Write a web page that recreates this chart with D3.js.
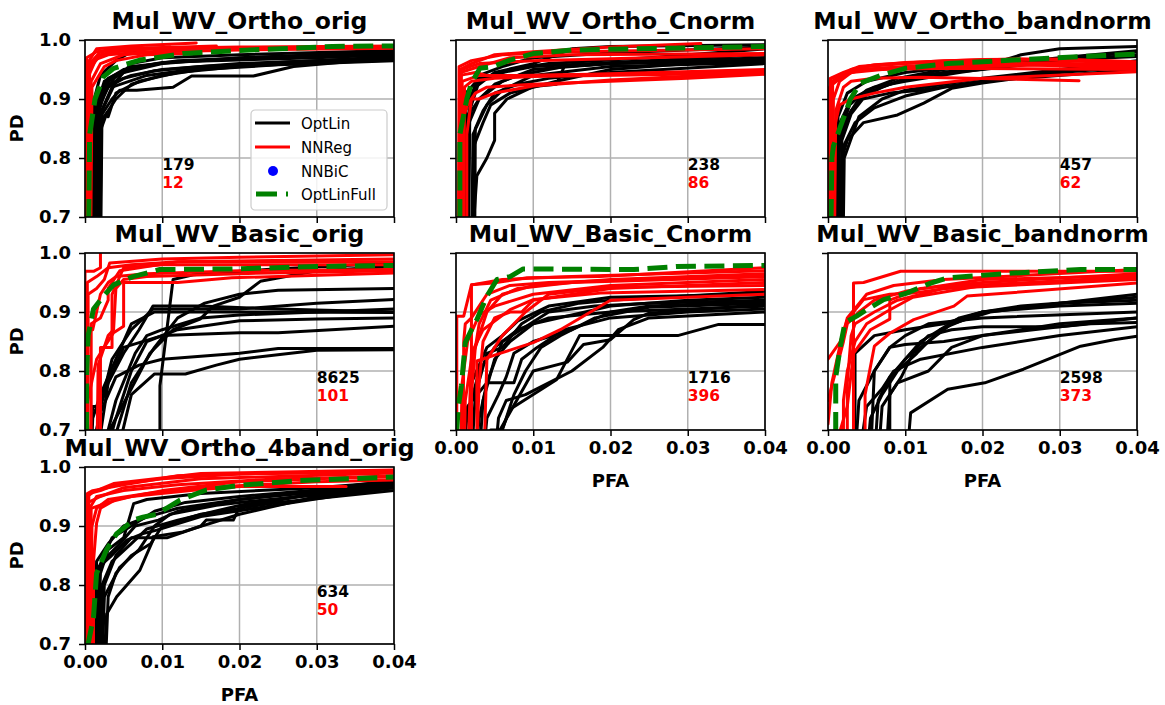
<!DOCTYPE html>
<html><head><meta charset="utf-8">
<script src="https://cdn.jsdelivr.net/npm/d3@7"></script>
<style>
body{margin:0;background:#fff;}
svg text{font-family:"DejaVu Sans",sans-serif;}
</style></head>
<body><svg id="c" width="1165" height="705"></svg>
<script>
const titles = ["Mul_WV_Ortho_orig","Mul_WV_Ortho_Cnorm","Mul_WV_Ortho_bandnorm","Mul_WV_Basic_orig","Mul_WV_Basic_Cnorm","Mul_WV_Basic_bandnorm","Mul_WV_Ortho_4band_orig"];
const pfaTicks = [0,0.01,0.02,0.03,0.04];
const pdTicks = [0.7,0.8,0.9,1.0];
const nOptLin = [179,238,457,8625,1716,2598,634];
const nNNReg = [12,86,62,101,396,373,50];
const notePFA = [0.01,0.03,0.03,0.03,0.03,0.03,0.03];
const notePD = [0.78,0.75];
const legendLabels = ["OptLin","NNReg","NNBiC","OptLinFull"];

// ---- Panel 1: Mul_WV_Ortho_orig
const optLin_P1 = [
 [[0.0009,0.6],[0.0011,0.85],[0.002,0.9],[0.003,0.93],[0.005,0.945],[0.01,0.96],[0.02,0.97],[0.03,0.975],[0.04,0.978]],
 [[0.0012,0.6],[0.0014,0.86],[0.0025,0.91],[0.004,0.94],[0.007,0.955],[0.012,0.965],[0.025,0.972],[0.04,0.975]],
 [[0.0015,0.6],[0.0016,0.88],[0.003,0.92],[0.005,0.935],[0.009,0.948],[0.015,0.955],[0.03,0.965],[0.04,0.97]],
 [[0.0018,0.6],[0.002,0.87],[0.0035,0.9],[0.0045,0.915],[0.0067,0.915],[0.0114,0.92],[0.0138,0.939],[0.0218,0.939],[0.027,0.955],[0.034,0.963],[0.04,0.966]],
 [[0.001,0.6],[0.0012,0.9],[0.002,0.94],[0.004,0.965],[0.006,0.98],[0.008,0.986],[0.04,0.987]],
 [[0.0014,0.6],[0.0016,0.89],[0.003,0.925],[0.006,0.94],[0.01,0.95],[0.02,0.96],[0.03,0.965],[0.04,0.972]],
 [[0.0017,0.6],[0.0019,0.86],[0.003,0.88],[0.004,0.9],[0.006,0.925],[0.01,0.94],[0.015,0.95],[0.025,0.958],[0.04,0.965]],
 [[0.0011,0.6],[0.0013,0.88],[0.0025,0.93],[0.005,0.95],[0.01,0.962],[0.02,0.968],[0.04,0.98]],
 [[0.0019,0.6],[0.0021,0.85],[0.0028,0.875],[0.003,0.87],[0.004,0.91],[0.007,0.93],[0.012,0.945],[0.02,0.955],[0.03,0.962],[0.04,0.968]],
 [[0.0013,0.6],[0.0015,0.9],[0.003,0.935],[0.006,0.955],[0.012,0.963],[0.03,0.97],[0.04,0.975]],
 [[0.0016,0.6],[0.0018,0.87],[0.0035,0.92],[0.008,0.94],[0.015,0.952],[0.025,0.962],[0.04,0.97]],
 [[0.002,0.6],[0.0022,0.88],[0.004,0.93],[0.006,0.96],[0.01,0.97],[0.02,0.975],[0.04,0.982]]
];
const nnReg_P1 = [
 [[0.0002,0.6],[0.0003,0.96],[0.0015,0.985],[0.006,0.99],[0.0144,0.995]],
 [[0.0004,0.6],[0.0005,0.95],[0.002,0.975],[0.005,0.985],[0.017,0.99]],
 [[0.0001,0.6],[0.0002,0.97],[0.0015,0.98],[0.004,0.985],[0.02,0.987],[0.04,0.988]],
 [[0.0006,0.6],[0.0008,0.93],[0.002,0.96],[0.005,0.975],[0.01,0.98],[0.02,0.983],[0.04,0.986]],
 [[0.0003,0.6],[0.0005,0.94],[0.0015,0.97],[0.004,0.98],[0.009,0.985],[0.011,0.988]],
 [[0.0005,0.6],[0.0006,0.96],[0.002,0.98],[0.006,0.985],[0.02,0.988],[0.04,0.99]],
 [[0.0007,0.6],[0.0009,0.92],[0.0025,0.955],[0.004,0.965],[0.008,0.975],[0.015,0.978]],
 [[0.0002,0.6],[0.0004,0.955],[0.001,0.965],[0.003,0.975],[0.008,0.98],[0.013,0.982]]
];
const optLinFull_P1 = [[0.0004,0.6],[0.0006,0.84],[0.0013,0.9],[0.0024,0.938],[0.0037,0.952],[0.0071,0.966],[0.0127,0.977],[0.0213,0.983],[0.032,0.989],[0.04,0.99]];

// ---- Panel 2: Mul_WV_Ortho_Cnorm
const optLin_P2 = [
 [[0.0012,0.6],[0.0014,0.85],[0.002,0.88],[0.003,0.9],[0.005,0.925],[0.008,0.94],[0.01,0.945],[0.014,0.955],[0.02,0.96],[0.04,0.965]],
 [[0.0018,0.6],[0.0027,0.77],[0.004,0.8],[0.005,0.83],[0.005,0.876],[0.0066,0.9],[0.01,0.921],[0.013,0.925],[0.014,0.955],[0.02,0.96],[0.03,0.965],[0.04,0.968]],
 [[0.0015,0.6],[0.0017,0.86],[0.003,0.9],[0.006,0.93],[0.01,0.95],[0.02,0.96],[0.04,0.97]],
 [[0.001,0.6],[0.0012,0.88],[0.0025,0.92],[0.005,0.945],[0.01,0.96],[0.015,0.985],[0.02,0.989],[0.04,0.992]],
 [[0.002,0.6],[0.0022,0.84],[0.004,0.89],[0.006,0.915],[0.01,0.94],[0.02,0.955],[0.04,0.962]],
 [[0.0013,0.6],[0.0015,0.87],[0.003,0.93],[0.007,0.95],[0.012,0.96],[0.025,0.97],[0.04,0.985]],
 [[0.0024,0.6],[0.0025,0.85],[0.0035,0.88],[0.005,0.91],[0.008,0.925],[0.012,0.935],[0.02,0.945],[0.04,0.96]],
 [[0.0016,0.6],[0.0018,0.9],[0.003,0.94],[0.006,0.955],[0.01,0.97],[0.02,0.978],[0.04,0.988]],
 [[0.0021,0.6],[0.0023,0.82],[0.0035,0.86],[0.0045,0.89],[0.007,0.91],[0.01,0.92],[0.013,0.93],[0.02,0.95],[0.04,0.97]],
 [[0.0011,0.6],[0.0013,0.91],[0.003,0.935],[0.006,0.945],[0.01,0.955],[0.04,0.975]]
];
const nnReg_P2 = [
 [[0.0003,0.6],[0.0005,0.95],[0.002,0.96],[0.005,0.975],[0.01,0.98],[0.02,0.988],[0.0317,0.994]],
 [[0.0005,0.6],[0.0006,0.945],[0.003,0.955],[0.007,0.97],[0.015,0.975],[0.04,0.977]],
 [[0.0004,0.6],[0.0005,0.94],[0.0025,0.945],[0.004,0.94],[0.01,0.94],[0.02,0.943],[0.04,0.95]],
 [[0.0007,0.6],[0.0008,0.93],[0.003,0.94],[0.008,0.94],[0.02,0.942],[0.04,0.946]],
 [[0.0014,0.6],[0.0014,0.84],[0.002,0.9],[0.003,0.9],[0.005,0.91],[0.01,0.922],[0.02,0.932],[0.04,0.945]],
 [[0.0008,0.6],[0.001,0.87],[0.0015,0.89],[0.0025,0.91],[0.004,0.92],[0.01,0.925],[0.03,0.935],[0.04,0.942]],
 [[0.0003,0.6],[0.0004,0.955],[0.002,0.965],[0.006,0.975],[0.015,0.98],[0.04,0.985]],
 [[0.0006,0.6],[0.0007,0.95],[0.003,0.96],[0.01,0.965],[0.025,0.97],[0.04,0.975]],
 [[0.001,0.6],[0.0011,0.92],[0.002,0.93],[0.005,0.935],[0.01,0.938],[0.04,0.944]]
];
const optLinFull_P2 = [[0.0005,0.6],[0.0005,0.84],[0.0014,0.9],[0.002,0.927],[0.0031,0.952],[0.0048,0.955],[0.007,0.966],[0.01,0.977],[0.015,0.983],[0.027,0.986],[0.04,0.989]];

// ---- Panel 3: Mul_WV_Ortho_bandnorm
const optLin_P3 = [
 [[0.0008,0.6],[0.001,0.78],[0.0018,0.84],[0.0025,0.87],[0.004,0.9],[0.007,0.92],[0.01,0.935],[0.02,0.955],[0.025,0.975],[0.03,0.985],[0.04,0.989]],
 [[0.0015,0.6],[0.0018,0.8],[0.0025,0.83],[0.0046,0.86],[0.009,0.873],[0.0124,0.893],[0.016,0.918],[0.02,0.927],[0.03,0.945],[0.04,0.955]],
 [[0.0012,0.6],[0.0014,0.82],[0.003,0.88],[0.005,0.91],[0.008,0.925],[0.012,0.94],[0.02,0.95],[0.03,0.965],[0.04,0.975]],
 [[0.001,0.6],[0.0012,0.85],[0.003,0.9],[0.006,0.92],[0.01,0.93],[0.017,0.945],[0.025,0.96],[0.04,0.98]],
 [[0.0017,0.6],[0.002,0.82],[0.0035,0.86],[0.006,0.885],[0.01,0.905],[0.015,0.92],[0.025,0.94],[0.04,0.96]],
 [[0.0013,0.6],[0.0015,0.84],[0.0028,0.89],[0.005,0.915],[0.009,0.935],[0.015,0.95],[0.03,0.97],[0.04,0.982]],
 [[0.0019,0.6],[0.0021,0.8],[0.004,0.87],[0.007,0.9],[0.01,0.915],[0.02,0.935],[0.03,0.95],[0.04,0.965]],
 [[0.0011,0.6],[0.0013,0.87],[0.0025,0.91],[0.005,0.93],[0.01,0.945],[0.02,0.96],[0.04,0.972]],
 [[0.0016,0.6],[0.0018,0.83],[0.003,0.875],[0.0045,0.9],[0.008,0.91],[0.012,0.915],[0.02,0.93],[0.04,0.95]]
];
const nnReg_P3 = [
 [[0.0002,0.6],[0.0003,0.935],[0.002,0.945],[0.004,0.955],[0.01,0.962],[0.02,0.967],[0.03,0.968],[0.04,0.963]],
 [[0.0004,0.6],[0.0005,0.93],[0.002,0.94],[0.005,0.955],[0.01,0.96],[0.02,0.963],[0.04,0.958]],
 [[0.0001,0.6],[0.0002,0.92],[0.0015,0.94],[0.004,0.95],[0.008,0.953],[0.015,0.955],[0.03,0.958],[0.04,0.955]],
 [[0.0006,0.6],[0.0007,0.9],[0.0015,0.93],[0.003,0.945],[0.007,0.95],[0.015,0.952],[0.04,0.95]],
 [[0.0008,0.6],[0.001,0.88],[0.002,0.92],[0.003,0.93],[0.006,0.935],[0.012,0.937],[0.0325,0.931]],
 [[0.0005,0.6],[0.0008,0.85],[0.0015,0.89],[0.003,0.9],[0.006,0.91],[0.01,0.92],[0.02,0.935],[0.04,0.946]],
 [[0.0005,0.6],[0.0006,0.925],[0.003,0.95],[0.006,0.958],[0.015,0.965],[0.025,0.968],[0.04,0.96]],
 [[0.0003,0.6],[0.0004,0.935],[0.0045,0.95],[0.01,0.955],[0.02,0.96],[0.04,0.952]]
];
const optLinFull_P3 = [[0.0003,0.6],[0.0005,0.8],[0.0007,0.82],[0.0016,0.853],[0.0029,0.9],[0.0042,0.927],[0.0068,0.94],[0.01,0.952],[0.0155,0.96],[0.024,0.966],[0.0326,0.972],[0.04,0.976]];

// ---- Panel 4: Mul_WV_Basic_orig
const optLin_P4 = [
 [[0.0097,0.6],[0.0097,0.775],[0.0114,0.955],[0.014,0.963],[0.0235,0.972],[0.04,0.983]],
 [[0.0032,0.6],[0.0032,0.7],[0.0084,0.83],[0.0114,0.87],[0.0149,0.888],[0.0166,0.91],[0.02,0.925],[0.0227,0.952],[0.03,0.97],[0.04,0.977]],
 [[0.003,0.65],[0.006,0.78],[0.009,0.84],[0.012,0.89],[0.0155,0.915],[0.02,0.93],[0.025,0.937],[0.04,0.94]],
 [[0.0012,0.65],[0.002,0.74],[0.0035,0.82],[0.006,0.87],[0.0088,0.905],[0.016,0.905],[0.02,0.905],[0.03,0.915],[0.04,0.921]],
 [[0.002,0.65],[0.004,0.75],[0.0065,0.83],[0.008,0.86],[0.01,0.87],[0.015,0.89],[0.02,0.895],[0.04,0.905]],
 [[0.0008,0.65],[0.001,0.72],[0.002,0.76],[0.004,0.82],[0.006,0.88],[0.009,0.9],[0.02,0.9],[0.04,0.899]],
 [[0.0025,0.65],[0.004,0.72],[0.006,0.8],[0.008,0.85],[0.012,0.87],[0.02,0.885],[0.03,0.888],[0.04,0.89]],
 [[0.0015,0.65],[0.003,0.78],[0.005,0.84],[0.01,0.86],[0.02,0.865],[0.025,0.865],[0.04,0.876]],
 [[0.0006,0.65],[0.002,0.73],[0.004,0.79],[0.007,0.81],[0.01,0.82],[0.015,0.825],[0.02,0.83],[0.025,0.838],[0.04,0.838]],
 [[0.004,0.65],[0.006,0.76],[0.009,0.795],[0.013,0.795],[0.017,0.81],[0.02,0.82],[0.03,0.835],[0.04,0.836]],
 [[0.0005,0.65],[0.001,0.74],[0.002,0.74],[0.003,0.78],[0.005,0.83],[0.007,0.87],[0.0088,0.91],[0.015,0.91],[0.025,0.905],[0.04,0.9]]
];
const nnReg_P4 = [
 [[0,0.6],[0,0.969],[0.0011,0.969],[0.002,0.975],[0.002,1.01]],
 [[0.0002,0.6],[0.0002,0.74],[0.0015,0.82],[0.0037,0.865],[0.005,0.876],[0.005,0.95],[0.012,0.95],[0.019,0.958],[0.04,0.966]],
 [[0.0001,0.6],[0.0001,0.87],[0.001,0.87],[0.0015,0.9],[0.002,0.93],[0.003,0.95],[0.004,0.96],[0.008,0.965],[0.02,0.97],[0.04,0.972]],
 [[0.0004,0.6],[0.0004,0.93],[0.0015,0.94],[0.0025,0.955],[0.0032,0.983],[0.01,0.99],[0.02,0.993],[0.04,0.997]],
 [[0.0008,0.6],[0.0008,0.88],[0.002,0.89],[0.003,0.92],[0.003,0.94],[0.0045,0.97],[0.012,0.985],[0.04,0.99]],
 [[0.0003,0.6],[0.0003,0.95],[0.0015,0.96],[0.003,0.975],[0.006,0.98],[0.012,0.985],[0.04,0.985]],
 [[0.0015,0.6],[0.0017,0.81],[0.003,0.86],[0.0037,0.87],[0.004,0.94],[0.005,0.955],[0.008,0.96],[0.02,0.965],[0.04,0.97]],
 [[0.002,0.6],[0.002,0.84],[0.0035,0.84],[0.0035,0.93],[0.005,0.975],[0.01,0.98],[0.04,0.98]]
];
const optLinFull_P4 = [[0.0002,0.6],[0.0002,0.79],[0.0004,0.86],[0.0011,0.905],[0.0024,0.927],[0.0037,0.946],[0.0062,0.96],[0.0097,0.972],[0.019,0.973],[0.03,0.977],[0.04,0.979]];

// ---- Panel 5: Mul_WV_Basic_Cnorm
const optLin_P5 = [
 [[0.0044,0.65],[0.007,0.735],[0.013,0.785],[0.016,0.86],[0.02,0.86],[0.0287,0.86],[0.034,0.879],[0.04,0.879]],
 [[0.0057,0.7],[0.01,0.8],[0.0144,0.815],[0.0165,0.845],[0.02,0.853],[0.023,0.887],[0.025,0.898],[0.04,0.913]],
 [[0.0015,0.65],[0.002,0.75],[0.003,0.8],[0.005,0.84],[0.008,0.87],[0.012,0.89],[0.02,0.9],[0.03,0.905],[0.04,0.91]],
 [[0.0025,0.65],[0.003,0.72],[0.004,0.78],[0.006,0.85],[0.009,0.875],[0.012,0.9],[0.018,0.91],[0.025,0.915],[0.04,0.92]],
 [[0.003,0.65],[0.0035,0.75],[0.005,0.82],[0.007,0.85],[0.01,0.88],[0.015,0.895],[0.02,0.91],[0.03,0.92],[0.04,0.925]],
 [[0.002,0.65],[0.0025,0.76],[0.004,0.83],[0.006,0.84],[0.0085,0.88],[0.011,0.9],[0.016,0.915],[0.02,0.92],[0.04,0.935]],
 [[0.0035,0.65],[0.004,0.72],[0.0055,0.76],[0.0065,0.79],[0.0075,0.83],[0.01,0.85],[0.015,0.87],[0.02,0.9],[0.025,0.91],[0.04,0.918]],
 [[0.004,0.65],[0.0045,0.7],[0.006,0.7],[0.0075,0.76],[0.009,0.8],[0.011,0.84],[0.0135,0.86],[0.018,0.89],[0.025,0.908],[0.04,0.915]],
 [[0.0018,0.65],[0.002,0.78],[0.004,0.84],[0.006,0.86],[0.008,0.885],[0.012,0.91],[0.02,0.925],[0.04,0.93]],
 [[0.001,0.65],[0.0015,0.74],[0.004,0.78],[0.0075,0.78],[0.0085,0.82],[0.0105,0.84],[0.014,0.87],[0.02,0.89],[0.03,0.9],[0.04,0.905]],
 [[0.005,0.65],[0.0055,0.72],[0.0065,0.75],[0.009,0.76],[0.012,0.78],[0.015,0.8],[0.019,0.84],[0.021,0.87],[0.025,0.89],[0.04,0.9]]
];
const nnReg_P5 = [
 [[0.002,0.6],[0.002,0.946],[0.0048,0.949],[0.0092,0.958],[0.0186,0.96],[0.04,0.975]],
 [[0.0001,0.6],[0.0001,0.893],[0.001,0.893],[0.002,0.946],[0.006,0.955],[0.015,0.96],[0.04,0.97]],
 [[0.0027,0.6],[0.0027,0.817],[0.0057,0.83],[0.01,0.848],[0.0135,0.87],[0.02,0.92],[0.04,0.93]],
 [[0.0014,0.6],[0.002,0.83],[0.0035,0.87],[0.007,0.904],[0.01,0.921],[0.0187,0.932],[0.04,0.938]],
 [[0.001,0.6],[0.0012,0.75],[0.002,0.82],[0.004,0.9],[0.006,0.93],[0.01,0.945],[0.02,0.955],[0.04,0.965]],
 [[0.0016,0.6],[0.002,0.76],[0.0025,0.84],[0.003,0.88],[0.0045,0.92],[0.008,0.94],[0.015,0.95],[0.04,0.96]],
 [[0.0005,0.6],[0.0008,0.78],[0.0015,0.85],[0.003,0.895],[0.005,0.91],[0.01,0.93],[0.02,0.945],[0.04,0.955]],
 [[0.0025,0.6],[0.003,0.78],[0.0035,0.85],[0.005,0.89],[0.007,0.9],[0.0085,0.9],[0.01,0.92],[0.02,0.94],[0.04,0.95]],
 [[0.0009,0.6],[0.001,0.85],[0.0012,0.88],[0.002,0.89],[0.004,0.93],[0.007,0.945],[0.012,0.95],[0.04,0.962]],
 [[0.0035,0.6],[0.004,0.82],[0.006,0.86],[0.009,0.9],[0.012,0.93],[0.02,0.942],[0.04,0.945]]
];
const optLinFull_P5 = [[0.0001,0.6],[0.0001,0.7],[0.0003,0.74],[0.0007,0.775],[0.0012,0.848],[0.002,0.87],[0.0027,0.887],[0.004,0.927],[0.0053,0.955],[0.007,0.96],[0.0087,0.973],[0.023,0.972],[0.0285,0.977],[0.04,0.979]];

// ---- Panel 6: Mul_WV_Basic_bandnorm
const optLin_P6 = [
 [[0.0102,0.65],[0.0107,0.729],[0.0155,0.769],[0.0203,0.78],[0.0253,0.803],[0.0327,0.842],[0.037,0.853],[0.04,0.859]],
 [[0.008,0.65],[0.008,0.786],[0.01,0.82],[0.013,0.86],[0.016,0.87],[0.02,0.875],[0.03,0.875],[0.034,0.88],[0.04,0.882]],
 [[0.0035,0.65],[0.004,0.75],[0.006,0.8],[0.008,0.84],[0.01,0.86],[0.013,0.88],[0.02,0.89],[0.04,0.9]],
 [[0.005,0.65],[0.0055,0.72],[0.007,0.76],[0.009,0.8],[0.0115,0.83],[0.0145,0.87],[0.02,0.9],[0.03,0.915],[0.04,0.92]],
 [[0.0065,0.65],[0.007,0.74],[0.009,0.78],[0.013,0.8],[0.016,0.84],[0.02,0.86],[0.03,0.88],[0.04,0.89]],
 [[0.0035,0.65],[0.0035,0.83],[0.006,0.86],[0.01,0.87],[0.015,0.88],[0.02,0.9],[0.025,0.91],[0.04,0.925]],
 [[0.006,0.65],[0.0065,0.75],[0.008,0.79],[0.01,0.82],[0.012,0.85],[0.0145,0.87],[0.017,0.89],[0.02,0.9],[0.03,0.91],[0.04,0.915]],
 [[0.004,0.65],[0.005,0.74],[0.007,0.77],[0.0085,0.8],[0.012,0.82],[0.02,0.84],[0.03,0.86],[0.04,0.875]],
 [[0.0075,0.65],[0.008,0.76],[0.0095,0.79],[0.011,0.83],[0.013,0.85],[0.016,0.88],[0.021,0.9],[0.03,0.915],[0.04,0.93]],
 [[0.0055,0.65],[0.006,0.8],[0.008,0.84],[0.01,0.845],[0.015,0.85],[0.02,0.86],[0.03,0.875],[0.04,0.89]]
];
const nnReg_P6 = [
 [[0.0033,0.6],[0.0033,0.949],[0.0046,0.95],[0.0094,0.969],[0.04,0.969]],
 [[0,0.82],[0.0016,0.85],[0.0025,0.887],[0.0046,0.921],[0.008,0.93],[0.011,0.932],[0.0175,0.944],[0.04,0.96]],
 [[0.0016,0.6],[0.0016,0.7],[0.0025,0.74],[0.0033,0.83],[0.0055,0.87],[0.008,0.888],[0.008,0.92],[0.012,0.94],[0.02,0.95],[0.04,0.965]],
 [[0.0048,0.6],[0.0048,0.76],[0.006,0.842],[0.008,0.864],[0.0111,0.887],[0.0163,0.91],[0.018,0.927],[0.04,0.949]],
 [[0,0.75],[0.001,0.8],[0.002,0.85],[0.0025,0.88],[0.004,0.9],[0.006,0.92],[0.01,0.935],[0.02,0.955],[0.04,0.962]],
 [[0.0025,0.6],[0.0025,0.78],[0.003,0.86],[0.0035,0.88],[0.006,0.9],[0.009,0.92],[0.015,0.94],[0.04,0.955]],
 [[0,0.71],[0.0005,0.78],[0.0015,0.84],[0.0025,0.89],[0.005,0.93],[0.0085,0.945],[0.015,0.955],[0.04,0.972]],
 [[0.002,0.6],[0.002,0.75],[0.0025,0.8],[0.0035,0.85],[0.005,0.88],[0.0075,0.9],[0.011,0.925],[0.02,0.945],[0.04,0.958]]
];
const optLinFull_P6 = [[0.001,0.6],[0.001,0.79],[0.0016,0.842],[0.0022,0.882],[0.0037,0.893],[0.005,0.904],[0.0072,0.921],[0.0102,0.932],[0.0133,0.949],[0.0155,0.958],[0.024,0.966],[0.0327,0.972],[0.04,0.972]];

// ---- Panel 7: Mul_WV_Ortho_4band_orig
const optLin_P7 = [
 [[0.0011,0.65],[0.0013,0.825],[0.0033,0.848],[0.0054,0.876],[0.0075,0.887],[0.0093,0.893],[0.015,0.916],[0.04,0.966]],
 [[0.0024,0.65],[0.0028,0.751],[0.0041,0.78],[0.0071,0.825],[0.0088,0.876],[0.0088,0.882],[0.0127,0.89],[0.02,0.92],[0.03,0.95],[0.04,0.965]],
 [[0.002,0.65],[0.0025,0.8],[0.004,0.85],[0.006,0.88],[0.0088,0.88],[0.0106,0.88],[0.015,0.9],[0.0157,0.91],[0.0192,0.91],[0.02,0.932],[0.03,0.955],[0.04,0.97]],
 [[0.0015,0.65],[0.002,0.82],[0.003,0.86],[0.005,0.88],[0.0063,0.938],[0.008,0.945],[0.015,0.955],[0.03,0.965],[0.04,0.975]],
 [[0.0018,0.65],[0.0022,0.8],[0.0035,0.84],[0.006,0.87],[0.008,0.895],[0.012,0.91],[0.02,0.935],[0.03,0.955],[0.04,0.968]],
 [[0.0012,0.65],[0.0015,0.84],[0.003,0.87],[0.005,0.9],[0.008,0.915],[0.012,0.93],[0.02,0.945],[0.04,0.97]],
 [[0.0026,0.65],[0.003,0.78],[0.004,0.82],[0.006,0.85],[0.0085,0.87],[0.01,0.9],[0.015,0.92],[0.025,0.94],[0.04,0.96]],
 [[0.0016,0.65],[0.0018,0.83],[0.0035,0.88],[0.006,0.9],[0.009,0.925],[0.013,0.94],[0.02,0.95],[0.04,0.972]],
 [[0.0022,0.65],[0.0025,0.78],[0.0045,0.83],[0.007,0.86],[0.009,0.9],[0.011,0.92],[0.017,0.935],[0.02,0.94],[0.04,0.965]],
 [[0.0014,0.65],[0.0016,0.82],[0.003,0.85],[0.0045,0.87],[0.0065,0.9],[0.0095,0.91],[0.012,0.925],[0.02,0.945],[0.03,0.96],[0.04,0.978]]
];
const nnReg_P7 = [
 [[0,0.6],[0.0003,0.95],[0.0011,0.958],[0.0037,0.972],[0.015,0.989],[0.04,0.995]],
 [[0.0002,0.6],[0.0004,0.94],[0.002,0.95],[0.005,0.965],[0.015,0.98],[0.04,0.99]],
 [[0.0005,0.6],[0.0008,0.93],[0.003,0.94],[0.006,0.95],[0.015,0.962],[0.02,0.967],[0.0338,0.967]],
 [[0.0011,0.6],[0.0011,0.84],[0.0015,0.905],[0.002,0.93],[0.004,0.945],[0.01,0.96],[0.02,0.975],[0.04,0.985]],
 [[0.0003,0.6],[0.0005,0.955],[0.002,0.96],[0.004,0.97],[0.01,0.98],[0.02,0.988],[0.04,0.992]],
 [[0.0007,0.6],[0.0009,0.9],[0.0015,0.93],[0.003,0.945],[0.008,0.955],[0.015,0.965],[0.03,0.975],[0.04,0.978]],
 [[0.0001,0.6],[0.0003,0.955],[0.001,0.96],[0.005,0.97],[0.012,0.985],[0.025,0.99],[0.04,0.993]],
 [[0.0004,0.6],[0.0006,0.93],[0.0015,0.95],[0.005,0.96],[0.012,0.97],[0.025,0.98],[0.04,0.983]]
];
const optLinFull_P7 = [[0.0004,0.6],[0.0004,0.7],[0.0011,0.745],[0.0015,0.82],[0.0028,0.86],[0.0041,0.887],[0.0063,0.91],[0.0075,0.915],[0.0093,0.92],[0.0123,0.944],[0.0157,0.961],[0.02,0.969],[0.0278,0.977],[0.04,0.983]];

const optLinAll = [optLin_P1,optLin_P2,optLin_P3,optLin_P4,optLin_P5,optLin_P6,optLin_P7];
const nnRegAll = [nnReg_P1,nnReg_P2,nnReg_P3,nnReg_P4,nnReg_P5,nnReg_P6,nnReg_P7];
const optLinFullAll = [optLinFull_P1,optLinFull_P2,optLinFull_P3,optLinFull_P4,optLinFull_P5,optLinFull_P6,optLinFull_P7];

// ---------- layout ----------
const colLeft = [85, 456, 828];
const rowTop = [40, 253, 467];
const pw = 309, ph = 177;
const cells = [[0,0],[0,1],[0,2],[1,0],[1,1],[1,2],[2,0]];
const xLabelled = [4,5,6];

const svg = d3.select("#c");
const x = d3.scaleLinear().domain([0,0.04]).range([0,pw]);
const y = d3.scaleLinear().domain([0.7,1.0]).range([ph,0]);
const line = d3.line().x(d=>x(d[0])).y(d=>y(d[1]));

titles.forEach((t,i)=>{
  const [r,c] = cells[i];
  const g = svg.append("g").attr("transform",`translate(${colLeft[c]},${rowTop[r]})`);
  g.append("defs").append("clipPath").attr("id","clip"+i)
    .append("rect").attr("width",pw).attr("height",ph);
  const grid = g.append("g");
  pfaTicks.forEach(v=>grid.append("line").attr("x1",x(v)).attr("x2",x(v)).attr("y1",0).attr("y2",ph)
    .attr("stroke","#b0b0b0").attr("stroke-width",1.5));
  pdTicks.forEach(v=>grid.append("line").attr("y1",y(v)).attr("y2",y(v)).attr("x1",0).attr("x2",pw)
    .attr("stroke","#b0b0b0").attr("stroke-width",1.5));
  const plot = g.append("g").attr("clip-path",`url(#clip${i})`);
  optLinAll[i].forEach(cv=>plot.append("path").attr("d",line(cv)).attr("fill","none")
    .attr("stroke","#000").attr("stroke-width",3).attr("stroke-linejoin","round").attr("stroke-linecap","round"));
  nnRegAll[i].forEach(cv=>plot.append("path").attr("d",line(cv)).attr("fill","none")
    .attr("stroke","#ff0000").attr("stroke-width",3).attr("stroke-linejoin","round").attr("stroke-linecap","round"));
  plot.append("path").attr("d",line(optLinFullAll[i])).attr("fill","none")
    .attr("stroke","#008000").attr("stroke-width",5).attr("stroke-dasharray","20,8.5").attr("stroke-linejoin","round");
  const showX = xLabelled.includes(i), showY = (c===0);
  const ax = g.append("g").attr("transform",`translate(0,${ph})`)
    .call(d3.axisBottom(x).tickValues(pfaTicks).tickSize(6).tickPadding(5)
      .tickFormat(showX ? d3.format(".2f") : ()=>""));
  const ay = g.append("g")
    .call(d3.axisLeft(y).tickValues(pdTicks).tickSize(6).tickPadding(8)
      .tickFormat(showY ? d3.format(".1f") : ()=>""));
  [ax,ay].forEach(a=>{
    a.select(".domain").remove();
    a.selectAll(".tick line").attr("stroke","#000").attr("stroke-width",1.5);
    a.selectAll(".tick text").attr("fill","#000").style("font-size","18px").style("font-weight","bold")
      .style("font-family","DejaVu Sans");
  });
  g.append("rect").attr("width",pw).attr("height",ph).attr("fill","none")
    .attr("stroke","#000").attr("stroke-width",1.6);
  g.append("text").attr("x",pw/2).attr("y",-11).attr("text-anchor","middle")
    .style("font-size","23.5px").style("font-weight","bold").text(t);
  if (showY) g.append("text").attr("transform",`translate(-62,${ph/2}) rotate(-90)`)
    .attr("text-anchor","middle").style("font-size","18px").style("font-weight","bold").text("PD");
  if (showX) g.append("text").attr("x",pw/2).attr("y",ph+57).attr("text-anchor","middle")
    .style("font-size","18px").style("font-weight","bold").text("PFA");
  g.append("text").attr("x",x(notePFA[i])).attr("y",y(notePD[0]))
    .style("font-size","15.5px").style("font-weight","bold").attr("fill","#000").text(nOptLin[i]);
  g.append("text").attr("x",x(notePFA[i])).attr("y",y(notePD[1]))
    .style("font-size","15.5px").style("font-weight","bold").attr("fill","#ff0000").text(nNNReg[i]);
  if (i===0) {
    const lg = g.append("g").attr("transform","translate(166,70)");
    lg.append("rect").attr("width",136).attr("height",100).attr("rx",4)
      .attr("fill","#fff").attr("fill-opacity",0.85).attr("stroke","#cccccc").attr("stroke-width",1.2);
    const ys = [13,37,61,84];
    lg.append("line").attr("x1",4).attr("x2",39).attr("y1",ys[0]).attr("y2",ys[0]).attr("stroke","#000").attr("stroke-width",3);
    lg.append("line").attr("x1",4).attr("x2",39).attr("y1",ys[1]).attr("y2",ys[1]).attr("stroke","#ff0000").attr("stroke-width",3);
    lg.append("circle").attr("cx",22).attr("cy",ys[2]).attr("r",5).attr("fill","#0000ff");
    lg.append("line").attr("x1",5).attr("x2",37).attr("y1",ys[3]).attr("y2",ys[3]).attr("stroke","#008000")
      .attr("stroke-width",5).attr("stroke-dasharray","21,9");
    legendLabels.forEach((l,k)=>lg.append("text").attr("x",50).attr("y",ys[k]+5.5)
      .style("font-size","15px").attr("fill","#000").text(l));
  }
});
</script></body></html>
